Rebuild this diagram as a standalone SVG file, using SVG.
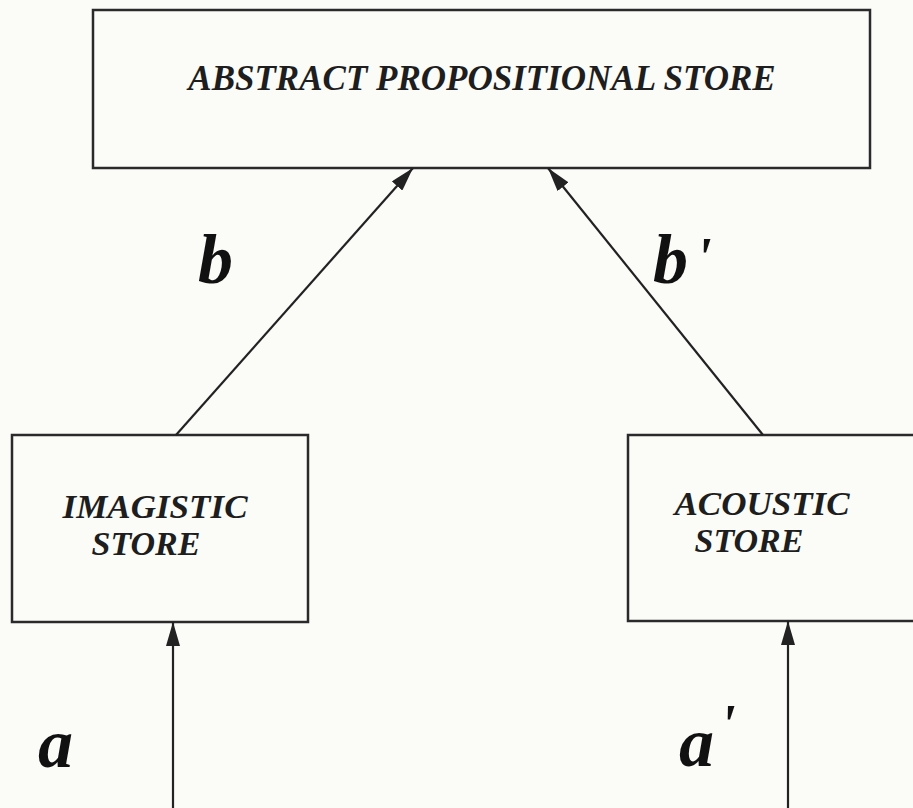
<svg xmlns="http://www.w3.org/2000/svg" width="913" height="808" viewBox="0 0 913 808">
<defs>
<style>
.box{fill:none;stroke:#2a2a2a;stroke-width:2.5}
.t{font-family:"Liberation Serif","Times New Roman",serif;font-style:italic;font-weight:bold;fill:#1e1e1e}
.lbl{font-family:"Liberation Serif","Times New Roman",serif;font-style:italic;font-weight:bold;fill:#111;font-size:70px}
.edge{stroke:#222;stroke-width:2.2;fill:none;marker-end:url(#ah2)}
</style>
<marker id="ah2" viewBox="0 0 24 14" refX="24" refY="7" markerWidth="24" markerHeight="14" markerUnits="userSpaceOnUse" orient="auto">
<path d="M0,0 L24,7 L0,14 Z" fill="#222"/>
</marker>
</defs>
<rect width="913" height="808" fill="#fbfcf8"/>
<g id="abstract">
<rect class="box" x="93" y="10" width="777" height="158"/>
<text class="t" x="482" y="90" font-size="35" text-anchor="middle">ABSTRACT PROPOSITIONAL STORE</text>
</g>
<g id="imagistic">
<rect class="box" x="12" y="435" width="296" height="187"/>
<text class="t" x="155" y="518" font-size="34" text-anchor="middle" textLength="185" lengthAdjust="spacingAndGlyphs">IMAGISTIC</text>
<text class="t" x="146" y="555" font-size="34" text-anchor="middle">STORE</text>
</g>
<g id="acoustic">
<rect class="box" x="628" y="435" width="300" height="186"/>
<text class="t" x="762" y="515" font-size="34" text-anchor="middle" textLength="175" lengthAdjust="spacingAndGlyphs">ACOUSTIC</text>
<text class="t" x="749" y="552" font-size="34" text-anchor="middle">STORE</text>
</g>
<g id="connectors">
<line class="edge" x1="176" y1="435" x2="413" y2="168"/>
<line class="edge" x1="763" y1="435" x2="548" y2="168"/>
<line class="edge" x1="173" y1="808" x2="173" y2="622"/>
<line class="edge" x1="788" y1="808" x2="788" y2="621"/>
</g>
<g id="labels">
<text class="lbl" x="198" y="283">b</text>
<text class="lbl" x="653" y="283">b<tspan dx="8" font-size="56" dy="-6">'</tspan></text>
<text class="lbl" x="38" y="767">a</text>
<text class="lbl" x="679" y="766">a<tspan dx="6" font-size="56" dy="-22">'</tspan></text>
</g>
</svg>
